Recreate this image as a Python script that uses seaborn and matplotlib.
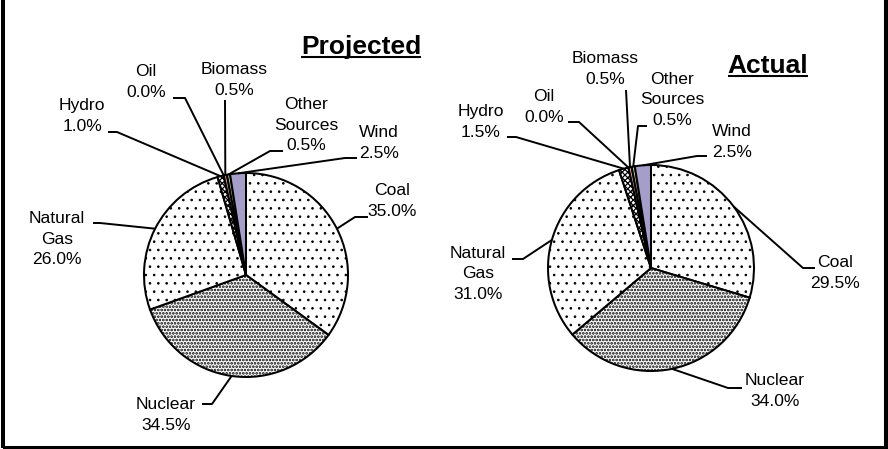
import numpy as np
import matplotlib
matplotlib.use("Agg")
import matplotlib.pyplot as plt
from matplotlib.patches import Rectangle
import seaborn as sns

# ---- data ----
categories = ["Coal", "Nuclear", "Natural Gas", "Hydro", "Oil", "Biomass", "Other Sources", "Wind"]
projected = [35.0, 34.5, 26.0, 1.0, 0.0, 0.5, 0.5, 2.5]
actual = [29.5, 34.0, 31.0, 1.5, 0.0, 0.5, 0.5, 2.5]
label_names = ["Coal", "Nuclear", "Natural\nGas", "Hydro", "Oil", "Biomass", "Other\nSources", "Wind"]
titles = ["Projected", "Actual"]

sns.set_theme(style="white")
plt.rcParams['font.family'] = ['Liberation Sans', 'DejaVu Sans']
plt.rcParams['hatch.linewidth'] = 0.6
plt.rcParams['hatch.color'] = 'black'

W, H = 888, 449
fig = plt.figure(figsize=(W / 100, H / 100), dpi=100)
fig.patch.set_facecolor('white')
ax = fig.add_axes([0, 0, 1, 1])
ax.set_facecolor('white')

fills = ['white', 'white', 'white', 'white', '#8FB3E0', '#E59C95', '#A8CF8E', '#A59EC8']
hatches = ['..', '.....', '..', 'xxxxxx', '', '', '', '']
hatch_lws = [0.65, 1.3, 0.65, 0.9, 0.6, 0.6, 0.6, 0.6]

# layout (image pixel coords, y downward): text centre, leader start, leader knee
layouts = [
    dict(center=(246, 275), r=102, title_x=361, title_base=54,
         labels=[((392, 201), (368, 217), (355, 217)),
                 ((166, 415), (202, 404), (212, 404)),
                 ((57, 239), (93, 223), (100, 223)),
                 ((82, 116), (108, 132), (117, 132)),
                 ((146, 82), (173, 98), (185, 98)),
                 ((234, 80), (225, 100), (225, 100)),
                 ((306, 125), (283, 151), (270, 151)),
                 ((379, 143), (357, 158), (345, 158))]),
    dict(center=(651, 268), r=103, title_x=768, title_base=73,
         labels=[((835, 273), (815, 268), (803, 268)),
                 ((775, 391), (742, 388), (728, 388)),
                 ((478, 274), (512, 259), (523, 259)),
                 ((481, 122), (507, 137), (516, 137)),
                 ((544, 107), (568, 122), (579, 122)),
                 ((605, 69), (626, 90), (626, 90)),
                 ((672, 100), (647, 126), (638, 126)),
                 ((732, 142), (707, 156), (697, 156))]),
]

def Y(y):
    return H - y

title_texts = []
for values, lay, title in zip([projected, actual], layouts, titles):
    cx, cy = lay['center']
    wedges, _ = ax.pie(values, startangle=90, counterclock=False,
                       center=(cx, Y(cy)), radius=lay['r'],
                       colors=fills, hatch=hatches,
                       wedgeprops=dict(edgecolor='black', linewidth=1.45))
    for w, hlw in zip(wedges, hatch_lws):
        if hasattr(w, 'set_hatch_linewidth'):
            w.set_hatch_linewidth(hlw)
        else:
            w._hatch_linewidth = hlw
    for w, name, v, (tp, p0, p1) in zip(wedges, label_names, values, lay['labels']):
        mid = np.deg2rad((w.theta1 + w.theta2) / 2)
        ax_x = w.center[0] + w.r * np.cos(mid)
        ax_y = w.center[1] + w.r * np.sin(mid)
        ax.plot([p0[0], p1[0], ax_x], [Y(p0[1]), Y(p1[1]), ax_y],
                color='black', lw=1.4, solid_capstyle='butt', zorder=3)
        ax.text(tp[0], Y(tp[1]), f"{name}\n{v:.1f}%", ha='center', va='center',
                multialignment='center', fontsize=12.6, color='black',
                linespacing=1.45, zorder=4)
    t = ax.text(lay['title_x'], Y(lay['title_base']), title, ha='center',
                va='baseline', fontsize=19, fontweight='bold', color='black')
    title_texts.append((t, lay['title_base']))

ax.set_xlim(0, W)
ax.set_ylim(0, H)
ax.set_aspect('equal', adjustable='box')
ax.set_axis_off()

# underline the titles
fig.canvas.draw()
renderer = fig.canvas.get_renderer()
inv = ax.transData.inverted()
for t, base in title_texts:
    bb = t.get_window_extent(renderer)
    x0 = inv.transform((bb.x0, 0))[0]
    x1 = inv.transform((bb.x1, 0))[0]
    ax.plot([x0, x1], [Y(base + 3), Y(base + 3)], color='black', lw=1.5,
            solid_capstyle='butt')

# frame (left, right, bottom)
ax.add_patch(Rectangle((3, 1.5), 883, 500, fill=False, edgecolor='black',
                       linewidth=2.9, clip_on=False))

fig.savefig('out.png', dpi=100, facecolor='white')
